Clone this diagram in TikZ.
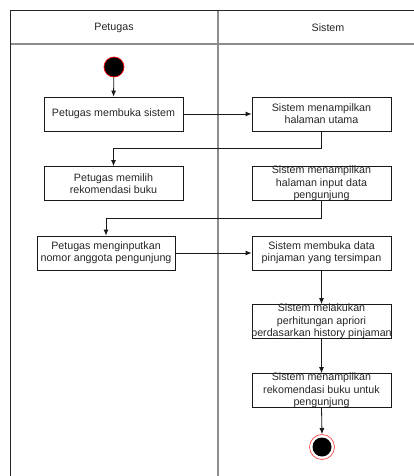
\documentclass[tikz,border=0pt]{standalone}
\usepackage{fontspec}
\setmainfont{Liberation Sans}
\usetikzlibrary{arrows.meta}
\begin{document}
\begin{tikzpicture}[x=1pt,y=-1pt,
  txt/.style={font=\fontsize{10.7}{12.3}\selectfont, text=black!85, align=center, inner sep=0pt},
  actbox/.style={draw=black!90, line width=0.8pt, minimum width=139pt, minimum height=34pt, inner sep=0pt},
  arr/.style={-{Latex[length=6pt,width=5pt]}, line width=0.8pt, draw=black!90},
  lane/.style={draw=black!45, line width=1.2pt},
  frame/.style={draw=black!85, line width=0.9pt}]
\useasboundingbox (0,0) rectangle (414,476);
\clip (0,0) rectangle (414,476);
% swimlane frame
\draw[lane] (10,44) -- (440,44);
\draw[lane] (218,10) -- (218,490);
\draw[frame] (10,490) -- (10,10) -- (440,10);
\node[txt] (h1) at (114,28) {Petugas};
\node[txt] (h2) at (328,28) {Sistem};
% start
\node[circle, fill=black, draw=red, line width=0.7pt, minimum size=20pt, inner sep=0pt] (start) at (114,67) {};
% boxes
\node[actbox] (b1) at (113.5,114) {};
\node[txt] (t1) at (b1.center) {Petugas membuka sistem};
\node[actbox] (b2) at (321.5,114) {};
\node[txt] (t2) at (b2.center) {Sistem menampilkan\\halaman utama};
\node[actbox] (b3) at (113.5,183.5) {};
\node[txt] (t3) at (b3.center) {Petugas memilih\\rekomendasi buku};
\node[actbox] (b4) at (321.5,183.5) {};
\node[txt] (t4) at (b4.center) {Sistem menampilkan\\halaman input data\\pengunjung};
\node[actbox, minimum width=138pt] (b5) at (106,253) {};
\node[txt] (t5) at (b5.center) {Petugas menginputkan\\nomor anggota pengunjung};
\node[actbox] (b6) at (321.5,253) {};
\node[txt] (t6) at (b6.center) {Sistem membuka data\\pinjaman yang tersimpan};
\node[actbox] (b7) at (321.5,321.5) {};
\node[txt] (t7) at (b7.center) {Sistem melakukan\\perhitungan apriori\\berdasarkan history pinjaman};
\node[actbox] (b8) at (321.5,390.5) {};
\node[txt] (t8) at (b8.center) {Sistem menampilkan\\rekomendasi buku untuk\\pengunjung};
% end
\node[circle, draw=red!70, line width=0.7pt, minimum size=25pt, inner sep=0pt] (end) at (322,447) {};
\node[circle, fill=black, minimum size=19pt, inner sep=0pt] (endin) at (end.center) {};
% connectors
\draw[arr] (start) -- (b1.north);
\draw[arr] (b1.east) -- (b2.west);
\draw[arr] (b2.south) -- ++(0,17) -| (b3.north);
\draw[arr] (b4.south) -- ++(0,17) -| (b5.north);
\draw[arr] (b5.east) -- (b6.west);
\draw[arr] (b6.south) -- (b7.north);
\draw[arr] (b7.south) -- (b8.north);
\draw[arr] (b8.south) -- (end.north);
\end{tikzpicture}
\end{document}
